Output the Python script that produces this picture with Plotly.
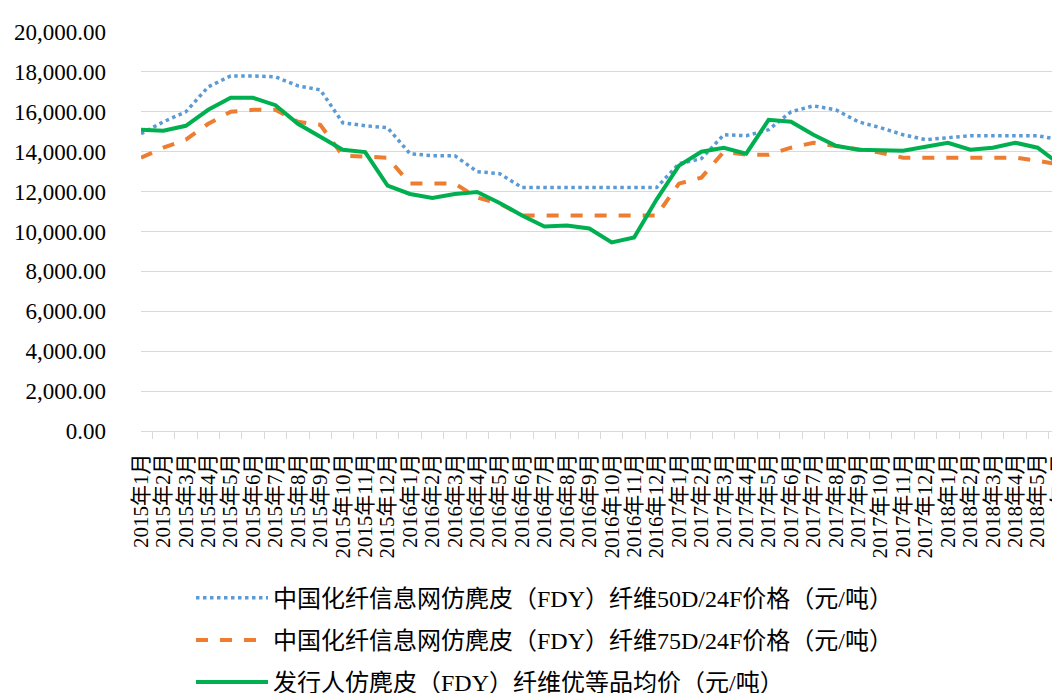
import plotly.graph_objects as go

months = [f"{y}年{m}月" for y in (2015, 2016, 2017) for m in range(1, 13)] + [f"2018年{m}月" for m in range(1, 7)]

price_50d = [14900, 15500, 16000, 17250, 17800, 17800, 17750, 17300, 17100, 15450, 15300, 15200,
             13900, 13800, 13800, 13000, 12900, 12200, 12200, 12200, 12200, 12200, 12200, 12200,
             13400, 13650, 14850, 14800, 15100, 16000, 16300, 16100, 15500, 15200, 14850, 14600,
             14700, 14800, 14800, 14800, 14800, 14600]
price_75d = [13700, 14200, 14600, 15400, 16000, 16100, 16100, 15500, 15350, 13800, 13750, 13700,
             12400, 12400, 12400, 11700, 11400, 10800, 10800, 10800, 10800, 10800, 10800, 10800,
             12400, 12700, 14000, 13850, 13850, 14200, 14450, 14300, 14100, 13950, 13700, 13700,
             13700, 13700, 13700, 13700, 13550, 13350]
issuer_avg = [15100, 15050, 15300, 16100, 16700, 16700, 16330, 15400, 14750, 14100, 13980, 12300,
              11880, 11680, 11880, 11980, 11430, 10800, 10250, 10300, 10150, 9450, 9700, 11600,
              13300, 14000, 14200, 13900, 15600, 15500, 14850, 14300, 14100, 14100, 14050, 14250,
              14450, 14100, 14200, 14450, 14200, 13350]

names = ["中国化纤信息网仿麂皮（FDY）纤维50D/24F价格（元/吨）",
         "中国化纤信息网仿麂皮（FDY）纤维75D/24F价格（元/吨）",
         "发行人仿麂皮（FDY）纤维优等品均价（元/吨）"]

font_fam = "'Liberation Serif', 'Times New Roman', 'Noto Sans CJK SC', serif"

fig = go.Figure()
fig.add_trace(go.Scatter(x=months, y=price_50d, name=names[0], mode="lines", legendgroup="a",
                         line=dict(color="#5B9BD5", width=3.5, dash="dot")))
fig.add_trace(go.Scatter(x=months, y=price_75d, name=names[1], mode="lines", legendgroup="b",
                         line=dict(color="#ED7D31", width=4, dash="dash")))
fig.add_trace(go.Scatter(x=months, y=issuer_avg, name=names[2], mode="lines", legendgroup="c",
                         line=dict(color="#00B050", width=4)))

fig.update_layout(
    width=1052, height=685,
    margin=dict(l=133, r=0, t=24, b=262),
    plot_bgcolor="white", paper_bgcolor="white",
    font=dict(family=font_fam, size=17, color="#000000"),
    showlegend=True,
    legend=dict(x=0.0544, xref="paper", y=0.1714, yref="container",
                xanchor="left", yanchor="top", orientation="v",
                font=dict(family=font_fam, size=24, color="#000000"),
                tracegroupgap=8, itemwidth=72, bgcolor="rgba(0,0,0,0)"),
)
fig.update_xaxes(type="category", tickangle=-90, showgrid=False, showline=True,
                 linecolor="#D9D9D9", linewidth=1, ticks="outside", tickson="boundaries",
                 ticklen=7, tickcolor="#D9D9D9", ticklabelstandoff=13, automargin=False,
                 tickmode="array", tickvals=months, ticktext=months,
                 tickfont=dict(family=font_fam, size=21, color="#000000"))
fig.update_yaxes(range=[0, 20000], dtick=2000, tickformat=",.2f", showgrid=True,
                 gridcolor="#D9D9D9", gridwidth=1, zeroline=False, showline=False,
                 ticks="", ticklabelstandoff=34, automargin=False,
                 tickfont=dict(family=font_fam, size=23, color="#000000"))

fig.write_html("out.html")
